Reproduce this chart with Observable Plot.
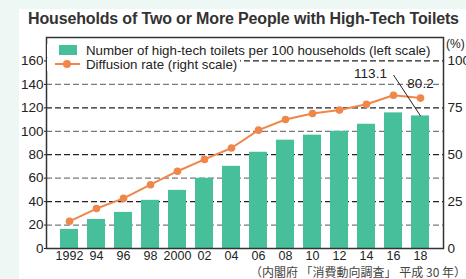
<!DOCTYPE html>
<html><head><meta charset="utf-8">
<script src="https://cdn.jsdelivr.net/npm/d3@7"></script>
<script src="https://cdn.jsdelivr.net/npm/@observablehq/plot@0.6"></script>
<style>
body{margin:0;width:466px;height:279px;background:#edf7f3;position:relative;overflow:hidden;font-family:"Liberation Sans",Arial,sans-serif;color:#222;}
#panel{position:absolute;left:19px;top:9px;width:447px;height:270px;background:#fff;}
#chart{position:absolute;left:0;top:0;}
#title{position:absolute;left:28px;top:10px;font-size:16px;font-weight:bold;color:#333;white-space:nowrap;letter-spacing:-0.15px;}
.lg{position:absolute;font-size:13.3px;line-height:13px;white-space:nowrap;background:#fff;}
#sw{position:absolute;left:59px;top:45px;width:18px;height:10px;background:#48bf9b;}
#ln{position:absolute;left:55px;top:63px;width:25px;height:2px;background:#f0874a;}
#dt{position:absolute;left:63px;top:60px;width:8px;height:8px;border-radius:50%;background:#f0874a;}
#pct{position:absolute;left:446px;top:37px;font-size:12px;}
#cap{position:absolute;right:0px;top:266px;font-size:12px;line-height:12px;color:#444;white-space:nowrap;font-family:"Noto Sans CJK JP",sans-serif;}
</style></head>
<body>
<div id="panel"></div>
<div id="chart"></div>
<div id="title">Households of Two or More People with High-Tech Toilets</div>
<div class="lg" style="left:47px;top:44px;padding-left:39px;">Number of high-tech toilets per 100 households (left scale)</div>
<div class="lg" style="left:47px;top:58px;padding-left:39px;padding-right:3px;">Diffusion rate (right scale)</div>
<div id="sw"></div><div id="ln"></div><div id="dt"></div>
<div id="pct">(%)</div>
<div id="cap">（内閣府 「消費動向調査」 平成 30 年）</div>
<script>
const years = ["1992","94","96","98","2000","02","04","06","08","10","12","14","16","18"];
const counts = [16.3, 24.8, 30.8, 41.1, 49.6, 59.9, 70.1, 82.1, 92.4, 96.7, 100, 106, 115.7, 113.1];
const rates = [14.5, 21.3, 26.7, 34.0, 41.2, 47.5, 53.6, 63.1, 68.8, 72.0, 73.8, 76.9, 81.7, 80.2];
const leftTicks = [0, 20, 40, 60, 80, 100, 120, 140, 160];
const rightTicks = [0, 25, 50, 75, 100];
const gridGray = [20, 60, 100, 140];
const gridDark = [40, 80, 120, 160];
const ratio = 160 / 100;

const rows = years.map((y, i) => ({year: y, count: counts[i], rate: rates[i] * ratio}));
const last = rows[rows.length - 1];

const plot = Plot.plot({
  width: 466, height: 279,
  marginTop: 37, marginBottom: 31, marginLeft: 46, marginRight: 23,
  style: {background: "transparent", fontFamily: "'Liberation Sans', Arial, sans-serif", fontSize: "13.5px", color: "#222"},
  x: {domain: years, padding: 0.345, axis: null},
  y: {domain: [0, 180], axis: null},
  marks: [
    Plot.ruleY(gridGray, {stroke: "#7a7a7a", strokeWidth: 1.3, strokeDasharray: "6,3"}),
    Plot.ruleY(gridDark, {stroke: "#222", strokeWidth: 1.3, strokeDasharray: "6,3"}),
    Plot.barY(rows, {x: "year", y: "count", fill: "#48bf9b"}),
    Plot.line(rows, {x: "year", y: "rate", stroke: "#f0874a", strokeWidth: 2}),
    Plot.dot(rows, {x: "year", y: "rate", fill: "#f0874a", r: 3.8}),
    Plot.axisX({tickSize: 0, tickPadding: 3, fontSize: 12.5, label: null}),
    Plot.axisY(leftTicks, {anchor: "left", tickSize: 2, tickPadding: 1, label: null}),
    Plot.axisY(rightTicks.map(v => v * ratio), {anchor: "right", tickFormat: d => Math.round(d / ratio), tickSize: 0, tickPadding: 4, label: null}),
    Plot.frame({stroke: "#333", strokeWidth: 1.5}),
    Plot.link([last], {x1: "year", y1: "count", x2: () => "16", y2: () => 148, stroke: "#222", strokeWidth: 1}),
    Plot.text([last], {x: () => "16", y: () => 149, text: d => d.count.toFixed(1), dx: -23, fontSize: 13.5, fill: "#222"}),
    Plot.text([last], {x: "year", y: "rate", text: d => (d.rate / ratio).toFixed(1), dy: -14, fontSize: 13.5, fill: "#222"})
  ]
});
document.getElementById("chart").appendChild(plot);
</script>
</body></html>
